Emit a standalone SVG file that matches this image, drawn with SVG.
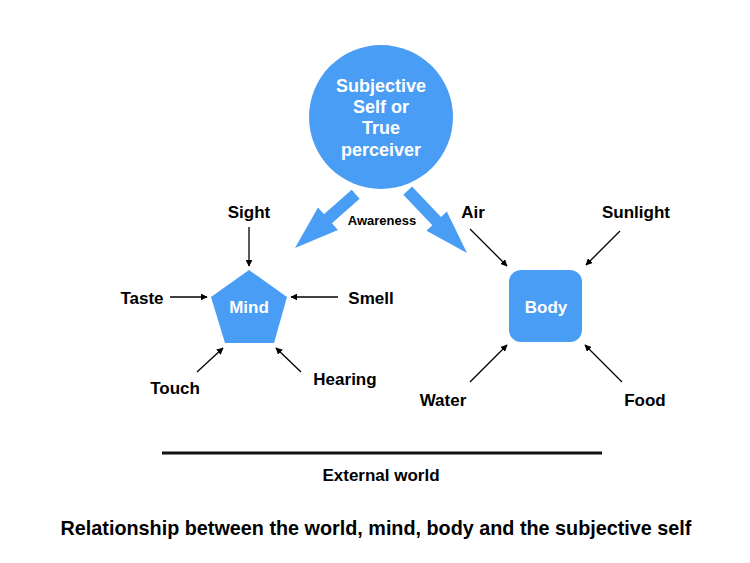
<svg xmlns="http://www.w3.org/2000/svg" width="750" height="563" viewBox="0 0 750 563">
<defs>
<style>
.lbl{font-family:"Liberation Sans",Arial,sans-serif;font-weight:bold;font-size:17px;fill:#000;text-anchor:middle}
.wt{font-family:"Liberation Sans",Arial,sans-serif;font-weight:bold;fill:#fff;text-anchor:middle}
.blue{fill:#4A9DF4}
.con{stroke:#000;stroke-width:1.3;fill:none;marker-end:url(#ah)}
</style>
<marker id="ah" viewBox="0 0 10 10" refX="9" refY="5" markerWidth="7" markerHeight="7" orient="auto" markerUnits="userSpaceOnUse">
<path d="M0,0 L10,5 L0,10 z" fill="#000"/>
</marker>
</defs>
<rect width="750" height="563" fill="#fff"/>
<g id="self">
<circle class="blue" cx="381" cy="117" r="72"/>
<text class="wt" font-size="18" x="381" y="92">Subjective</text>
<text class="wt" font-size="18" x="381" y="113">Self or</text>
<text class="wt" font-size="18" x="381" y="134">True</text>
<text class="wt" font-size="18" x="381" y="156">perceiver</text>
</g>
<g id="awareness-arrows">
<polygon class="blue" transform="translate(295,248) rotate(138.5)" points="-81,-6 -44,-6 -44,-15 0,0 -44,15 -44,6 -81,6"/>
<polygon class="blue" transform="translate(467,253) rotate(46.4)" points="-86,-6 -44,-6 -44,-14 0,0 -44,14 -44,6 -86,6"/>
<text class="lbl" style="font-size:13px" x="382" y="225">Awareness</text>
</g>
<g id="mind">
<polygon class="blue" points="249,270 287,297 274,343 225,343 211,297"/>
<text class="wt" font-size="17" x="249" y="313">Mind</text>
</g>
<g id="body">
<rect class="blue" x="509" y="270" width="73" height="72" rx="12"/>
<text class="wt" font-size="17" x="546" y="313">Body</text>
</g>
<g id="sight"><text class="lbl" x="249" y="218">Sight</text></g>
<g id="taste"><text class="lbl" x="142" y="304">Taste</text></g>
<g id="smell"><text class="lbl" x="371" y="304">Smell</text></g>
<g id="touch"><text class="lbl" x="175" y="394">Touch</text></g>
<g id="hearing"><text class="lbl" x="345" y="385">Hearing</text></g>
<g id="air"><text class="lbl" x="473" y="218">Air</text></g>
<g id="sunlight"><text class="lbl" x="636" y="218">Sunlight</text></g>
<g id="water"><text class="lbl" x="443" y="406">Water</text></g>
<g id="food"><text class="lbl" x="645" y="406">Food</text></g>
<g id="connectors">
<line class="con" x1="249" y1="227" x2="249" y2="266"/>
<line class="con" x1="170" y1="297" x2="207" y2="297"/>
<line class="con" x1="338" y1="297" x2="291" y2="297"/>
<line class="con" x1="197" y1="372" x2="223" y2="348"/>
<line class="con" x1="301" y1="372" x2="276" y2="348"/>
<line class="con" x1="470" y1="229" x2="507" y2="266"/>
<line class="con" x1="620" y1="231" x2="586" y2="265"/>
<line class="con" x1="470" y1="382" x2="507" y2="345"/>
<line class="con" x1="622" y1="382" x2="585" y2="345"/>
</g>
<g id="external-world">
<line x1="162" y1="453" x2="602" y2="453" stroke="#111" stroke-width="3"/>
<text class="lbl" x="381" y="481">External world</text>
</g>
<text class="lbl" style="font-size:19.8px" x="376" y="535">Relationship between the world, mind, body and the subjective self</text>
</svg>
